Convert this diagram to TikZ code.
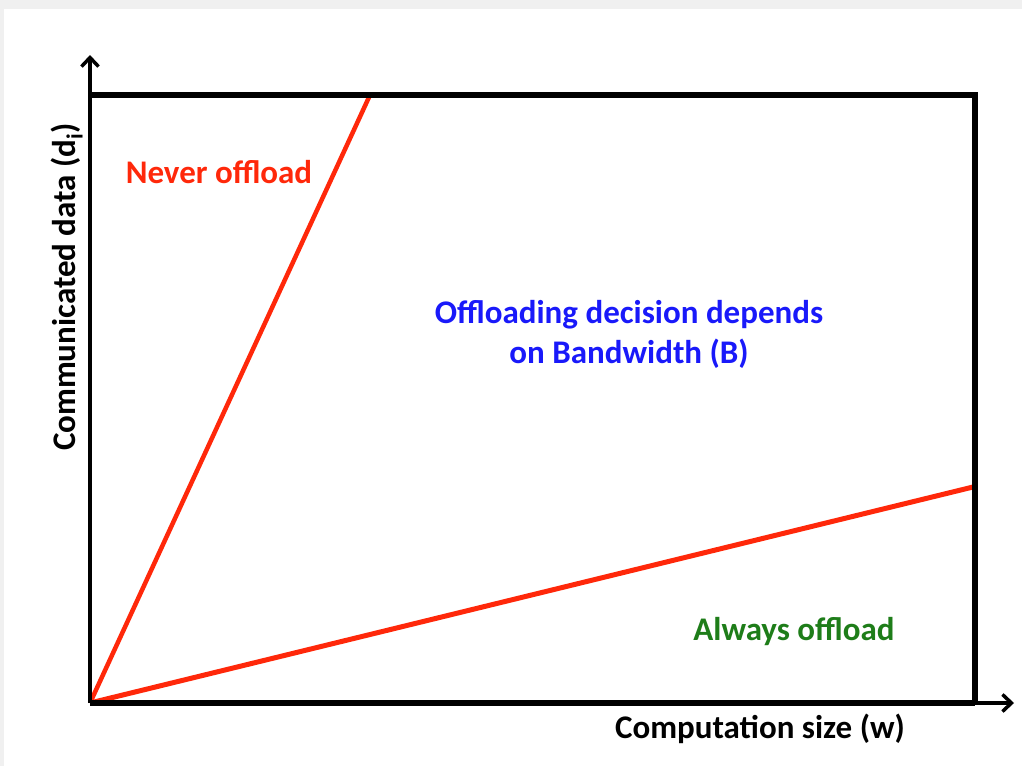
\documentclass[tikz,border=0pt]{standalone}
\usepackage{fontspec}
\setmainfont{Carlito}
\usetikzlibrary{arrows.meta}
\definecolor{bandred}{RGB}{255,40,10}
\definecolor{labelblue}{RGB}{25,25,250}
\definecolor{labelgreen}{RGB}{30,125,25}
\definecolor{pagegray}{RGB}{240,240,240}
\tikzset{
  frameline/.style={line width=5.5pt, black},
  axisline/.style={line width=3.5pt, black, -{Straight Barb[length=9pt,width=17pt,line width=3.5pt]}},
  boundary/.style={line width=5pt, bandred},
  region/.style={font=\bfseries\fontsize{33}{40}\selectfont, anchor=base, align=center},
  axislabel/.style={font=\bfseries\fontsize{33}{40}\selectfont, anchor=base, text=black}
}
\begin{document}
\begin{tikzpicture}[x=1pt,y=-1pt]
  % page background
  \fill[pagegray] (0,0) rectangle (1022,766);
  \fill[white] (4,9) rectangle (1022,766);
  \useasboundingbox (0,0) rectangle (1022,766);

  % corners of the plotting area
  \coordinate (O) at (90,703);
  \coordinate (TL) at (90,95);
  \coordinate (TR) at (975,95);
  \coordinate (BR) at (975,703);
  \coordinate (yend) at (90,55);
  \coordinate (xend) at (1014,703);
  \coordinate (steep) at (370,95);
  \coordinate (shallow) at (973,487);

  % boundary lines between the regions
  \draw[boundary, line width=4.5pt] (O) -- (steep);
  \draw[boundary] (O) -- (shallow);

  % frame and axes
  \draw[frameline] (TL) -- (TR) -- (BR);
  \draw[frameline] (O) -- (BR);
  \draw[axisline] (O) -- (yend);
  \draw[axisline] (BR) -- (xend);

  % region labels
  \node[region, text=bandred] (never) at (219,183) {Never offload};
  \node[region, text=labelblue] (depends) at (629,323) {Offloading decision depends};
  \node[region, text=labelblue] (bandwidth) at (629,363) {on Bandwidth (B)};
  \node[region, text=labelgreen] (always) at (794,640) {Always offload};

  % axis labels
  \node[axislabel] (xlabel) at (760,738) {Computation size (w)};
  \node[axislabel, rotate=90] (ylabel) at (75,287) {Communicated data (d\textsubscript{i})};
\end{tikzpicture}
\end{document}
